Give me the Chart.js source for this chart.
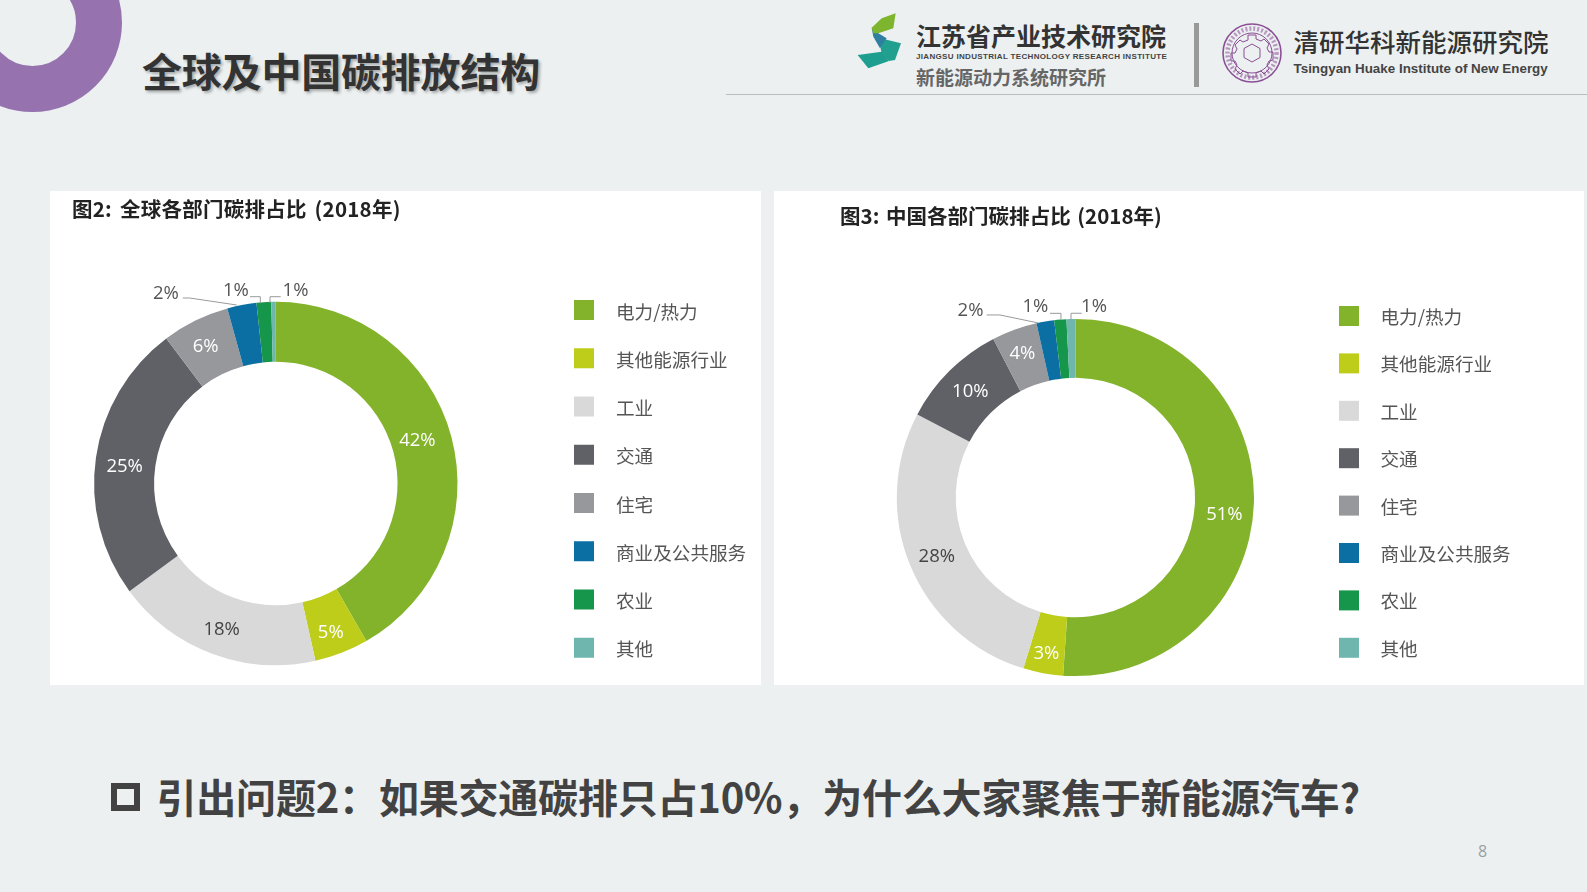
<!DOCTYPE html>
<html lang="zh">
<head>
<meta charset="utf-8">
<title>全球及中国碳排放结构</title>
<script src="https://cdn.jsdelivr.net/npm/chart.js@4/dist/chart.umd.js"></script>
<style>
html,body{margin:0;padding:0;width:1587px;height:892px;overflow:hidden;background:#ECF0F1;font-family:"Noto Sans CJK SC","Noto Sans",sans-serif;}
.t{position:absolute;white-space:nowrap;line-height:1;}
.panel{position:absolute;background:#fff;}
.panel canvas{position:absolute;left:0;top:0;}
</style>
</head>
<body>
<div style="position:absolute;left:-57.1px;top:-67.2px;width:87px;height:87px;border:46px solid #9673AF;border-radius:50%;"></div>
<div class="t" style="left:142px;top:49.5px;font-size:40px;font-weight:700;color:#333;letter-spacing:-.2px;text-shadow:2px 2px 3px rgba(0,0,0,.3);">全球及中国碳排放结构</div>
<div style="position:absolute;left:726px;top:94px;width:861px;height:1px;background:#B9BDBF;"></div>

<svg style="position:absolute;left:845px;top:5px" width="80" height="75" viewBox="0 0 240 225">
  <path d="M38 150 L110 140 L132 168 L70 190Z" fill="#1E9E8E"/>
  <path d="M100 98 L168 115 L150 165 L132 168 L110 145Z" fill="#22A08F"/>
  <path d="M80 68 L85 95 L105 130 L125 100 L100 85Z" fill="#2F7FA0"/>
  <path d="M80 68 L110 40 L152 25 L145 70 L100 85 L85 85Z" fill="#7DB52F"/>
</svg>
<div class="t" style="left:916px;top:23px;font-size:25px;font-weight:700;color:#333;">江苏省产业技术研究院</div>
<div class="t" style="left:916px;top:53px;font-size:8px;font-weight:700;color:#444;font-family:'Liberation Sans';letter-spacing:.33px;">JIANGSU INDUSTRIAL TECHNOLOGY RESEARCH INSTITUTE</div>
<div class="t" style="left:916px;top:66.5px;font-size:19px;font-weight:700;color:#666;">新能源动力系统研究所</div>
<div style="position:absolute;left:1194px;top:23px;width:5px;height:64px;background:#999;"></div>
<svg style="position:absolute;left:1220px;top:20.5px" width="64" height="64" viewBox="0 0 64 64" fill="none" stroke="#8A4F94">
  <circle cx="32" cy="32" r="29" stroke-width="1.6"/>
  <circle cx="32" cy="32" r="20" stroke-width="1"/>
  <circle cx="32" cy="32" r="24.5" stroke-width="4.5" stroke-dasharray="2 2" opacity=".55"/>
  <path d="M28 14h8v4l5 2 3-2 5 5-2 4 2 4h4v8l-4 1-2 4 2 4-5 5-3-3-5 2v4h-8v-4l-5-2-3 3-5-5 2-4-2-4h-4v-8h4l2-4-2-4 5-5 3 2 5-2z" stroke-width="1"/>
  <path d="M32 23l8 4.500v9l-8 4.500-8-4.500v-9z" stroke-width="1"/>
</svg>
<div class="t" style="left:1293.500px;top:28px;font-size:25.5px;font-weight:500;color:#333;">清研华科新能源研究院</div>
<div class="t" style="left:1293.500px;top:62px;font-size:13.4px;font-weight:700;color:#444;font-family:'Liberation Sans';">Tsingyan Huake Institute of New Energy</div>

<div class="panel" style="left:50px;top:191px;width:711px;height:494px;">
  <canvas id="globalChart" width="711" height="493"></canvas>
  <div class="t" style="left:22px;top:7px;font-size:20.500px;font-weight:700;color:#222;word-spacing:3px;letter-spacing:.25px;">图2: 全球各部门碳排占比 (2018年)</div>
</div>
<div class="panel" style="left:774px;top:191px;width:810px;height:494px;">
  <canvas id="chinaChart" width="809" height="493"></canvas>
  <div class="t" style="left:66px;top:14px;font-size:20.500px;font-weight:700;color:#222;word-spacing:2px;letter-spacing:.02px;">图3: 中国各部门碳排占比 (2018年)</div>
</div>

<div style="position:absolute;left:110.500px;top:783px;width:17.500px;height:16px;border:6px solid #424242;"></div>
<div class="t" style="left:156.500px;top:776px;font-size:40px;font-weight:700;color:#424242;letter-spacing:-.2px;">引出问题2：如果交通碳排只占10%，为什么大家聚焦于新能源汽车?</div>
<div class="t" style="left:1478px;top:843px;font-size:16px;color:#9A9FA3;font-family:'Open Sans';">8</div>

<script>
const categories = ['电力/热力','其他能源行业','工业','交通','住宅','商业及公共服务','农业','其他'];
const sliceColors = ['#83B32A','#BDCD1A','#D9D9D9','#5F6166','#97989C','#0B6FA4','#15964A','#6FB7AE'];
const globalValues = [41.7,4.8,18.4,24.8,6.0,2.6,1.3,0.4];
const globalLabels = ['42%','5%','18%','25%','6%','2%','1%','1%'];
const chinaValues = [51.1,3.6,28.0,9.7,4.1,1.6,1.1,0.8];
const chinaLabels = ['51%','3%','28%','10%','4%','2%','1%','1%'];
const insideTextColors = ['#fff','#fff','#444','#fff','#fff'];

Chart.defaults.animation = false;

function slicePlugin(texts, cfg){
  return {
    id:'sliceText',
    afterDatasetsDraw(chart){
      const ctx = chart.ctx;
      const arcs = chart.getDatasetMeta(0).data;
      ctx.save();
      ctx.textAlign='center';
      ctx.textBaseline='middle';
      ctx.font='18.5px "Open Sans"';
      arcs.forEach((a,i)=>{
        const p = a.getProps(['x','y','startAngle','endAngle','innerRadius','outerRadius']);
        const mid = (p.startAngle+p.endAngle)/2;
        if(i<insideTextColors.length){
          const r=(p.innerRadius+p.outerRadius)/2;
          const n=cfg.nudges[i]||[0,0];
          ctx.fillStyle=insideTextColors[i];
          ctx.fillText(texts[i],p.x+Math.cos(mid)*r+n[0],p.y+Math.sin(mid)*r+n[1]);
        } else {
          const ax=p.x+Math.cos(mid)*p.outerRadius, ay=p.y+Math.sin(mid)*p.outerRadius;
          const c=cfg.callouts[i-insideTextColors.length];
          ctx.beginPath();
          c.line.forEach((q,k)=>{k?ctx.lineTo(ax+q[0],ay+q[1]):ctx.moveTo(ax+q[0],ay+q[1]);});
          ctx.strokeStyle='#9A9A9A';ctx.lineWidth=1;ctx.stroke();
          ctx.fillStyle='#555';
          ctx.fillText(texts[i],ax+c.text[0],ay+c.text[1]+1);
        }
      });
      ctx.textAlign='left';
      ctx.font='18.6px "Noto Sans CJK SC"';
      chart.data.labels.forEach((lab,i)=>{
        const y=cfg.legend.y+i*cfg.legend.step;
        ctx.fillStyle=sliceColors[i];
        ctx.fillRect(cfg.legend.box,y-10,20,20);
        ctx.fillStyle='#555';
        ctx.fillText(lab,cfg.legend.text,y+cfg.legend.textDy);
      });
      ctx.restore();
    }
  };
}

function makeChart(id,values,texts,padding,cfg){
  return new Chart(document.getElementById(id),{
    type:'doughnut',
    data:{labels:categories,datasets:[{data:values,backgroundColor:sliceColors,borderWidth:0}]},
    options:{
      responsive:false,
      cutout:'67%',
      layout:{padding},
      plugins:{legend:{display:false},tooltip:{enabled:false},title:{display:false}}
    },
    plugins:[slicePlugin(texts,cfg)]
  });
}

makeChart('globalChart',globalValues,globalLabels,
  {left:44.1,right:303.5,top:110.8,bottom:18.8},
  {nudges:[[-5,-4],[0,8],[-1,4],[-1,5],[-3,-1]],
   callouts:[
    {text:[-75.8,-12.6],line:[[-59,-7],[-52,-7],[-5,0]]},
    {text:[-28,-12.7],line:[[-13.8,-5.5],[-3.5,-5.5],[-3.5,1]]},
    {text:[22,-12.3],line:[[7.2,-5.1],[-3.5,-5.1],[-3.5,1.2]]}],
   legend:{box:524,text:566,y:119,step:48.25,textDy:1.5}});

makeChart('chinaChart',chinaValues,chinaLabels,
  {left:122.8,right:329,top:127.9,bottom:7.9},
  {nudges:[[0,12],[-2,10],[-1,2],[0,0],[-2,-4]],
   callouts:[
    {text:[-74.7,-11.5],line:[[-58.6,-6.5],[-45.3,-6.5],[-7,1.5]]},
    {text:[-24.9,-13.9],line:[[-10.3,-6.2],[0.7,-6.2],[0.7,-0.2]]},
    {text:[23.1,-13.4],line:[[10.8,-5.7],[0.1,-5.7],[0.1,0.3]]}],
   legend:{box:565,text:606.5,y:125,step:47.4,textDy:1}});
</script>
</body>
</html>
